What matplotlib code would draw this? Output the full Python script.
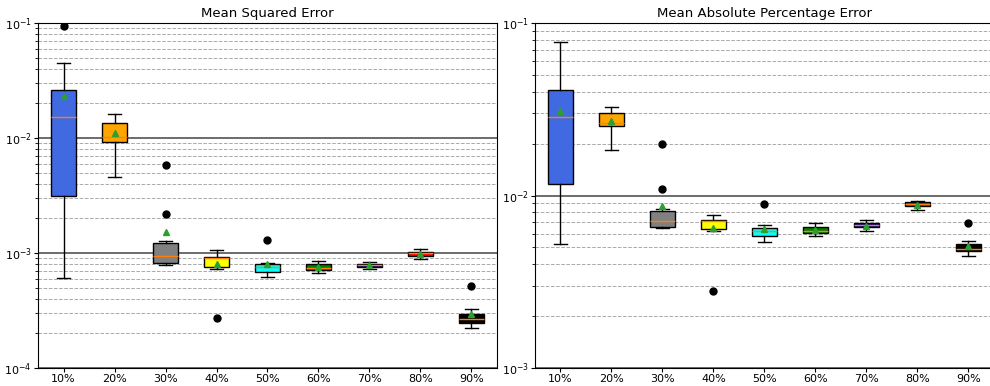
import numpy as np
import matplotlib
matplotlib.use('Agg')
import matplotlib.pyplot as plt

labels = ['10%', '20%', '30%', '40%', '50%', '60%', '70%', '80%', '90%']
colors = ['royalblue', 'orange', 'gray', 'yellow', 'cyan', 'green', 'darkblue', 'red', 'black']

# Mean Squared Error
mse_whislo = [0.000602, 0.00461, 0.000787, 0.000721, 0.000615, 0.000675, 0.00072, 0.00088, 0.000223]
mse_q1 = [0.00313, 0.00923, 0.000812, 0.00076, 0.000684, 0.000711, 0.000757, 0.00095, 0.000248]
mse_med = [0.0151, 0.01026, 0.000935, 0.00091, 0.000763, 0.000737, 0.00078, 0.000993, 0.000269]
mse_q3 = [0.0261, 0.0136, 0.00121, 0.000923, 0.00081, 0.0008, 0.00081, 0.00102, 0.000295]
mse_whishi = [0.0452, 0.0162, 0.00128, 0.00107, 0.00082, 0.000851, 0.00084, 0.00108, 0.000328]
mse_mean = [0.0232, 0.011, 0.00153, 0.00081, 0.0008, 0.000763, 0.00078, 0.00098, 0.000293]
mse_fliers = [[0.0936], [], [0.0058, 0.00217], [0.00027], [0.0013], [], [], [], [0.000516]]

# Mean Absolute Percentage Error
mape_whislo = [0.00524, 0.0183, 0.00645, 0.0062, 0.0054, 0.00582, 0.0062, 0.00821, 0.00446]
mape_q1 = [0.0116, 0.0252, 0.00656, 0.00637, 0.0058, 0.00604, 0.00654, 0.00865, 0.00475]
mape_med = [0.0286, 0.0264, 0.00711, 0.00708, 0.0062, 0.0062, 0.00675, 0.00892, 0.00492]
mape_q3 = [0.0407, 0.0299, 0.00817, 0.00718, 0.0065, 0.00654, 0.00695, 0.00912, 0.00522]
mape_whishi = [0.0773, 0.0327, 0.0084, 0.00774, 0.00671, 0.0069, 0.00718, 0.00933, 0.00547]
mape_mean = [0.031, 0.027, 0.00865, 0.0065, 0.0064, 0.0063, 0.0067, 0.00884, 0.00509]
mape_fliers = [[], [], [0.01995, 0.0109], [0.0028], [0.00896], [], [], [], [0.00695]]


def make_stats(whislo, q1, med, q3, whishi, mean, fliers):
    stats = []
    for i in range(len(labels)):
        stats.append(dict(whislo=whislo[i], q1=q1[i], med=med[i], q3=q3[i],
                          whishi=whishi[i], mean=mean[i], fliers=fliers[i],
                          label=labels[i]))
    return stats


def draw(ax, stats, title, ylim):
    bp = ax.bxp(stats, patch_artist=True, showmeans=True,
                flierprops=dict(marker='o', markerfacecolor='black',
                                markeredgecolor='black', markersize=5),
                meanprops=dict(marker='^', markerfacecolor='tab:green',
                               markeredgecolor='tab:green', markersize=5))
    for patch, c in zip(bp['boxes'], colors):
        patch.set_facecolor(c)
        patch.set_edgecolor('black')
    ax.set_yscale('log')
    ax.set_ylim(ylim)
    ax.set_xlim(0.5, 9.5)
    ax.grid(which='major', axis='y', color='#444444', linestyle='-', linewidth=1.1)
    ax.grid(which='minor', axis='y', color='#aaaaaa', linestyle='--', linewidth=0.7)
    ax.set_title(title, fontsize=9.5, pad=4)
    ax.tick_params(labelsize=8, pad=1.5)
    ax.tick_params(which='both', length=3)
    ax.tick_params(which='minor', length=2)


fig = plt.figure(figsize=(9.9, 3.86), dpi=100)
ax1 = fig.add_axes([0.0384, 0.0466, 0.4636, 0.8938])
ax2 = fig.add_axes([0.5404, 0.0466, 0.4636, 0.8938])

draw(ax1, make_stats(mse_whislo, mse_q1, mse_med, mse_q3, mse_whishi, mse_mean, mse_fliers),
     'Mean Squared Error', (1e-4, 1e-1))
draw(ax2, make_stats(mape_whislo, mape_q1, mape_med, mape_q3, mape_whishi, mape_mean, mape_fliers),
     'Mean Absolute Percentage Error', (1e-3, 1e-1))

fig.savefig('out.png', dpi=100)
